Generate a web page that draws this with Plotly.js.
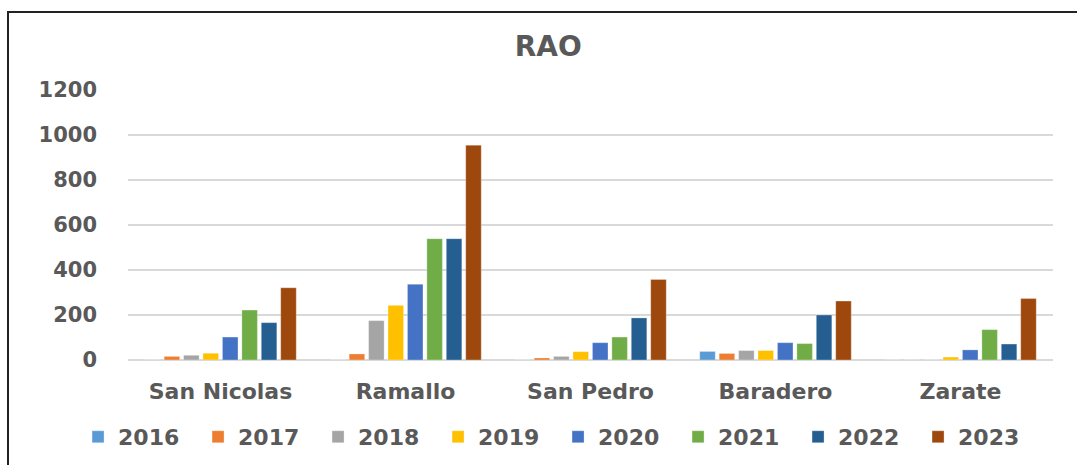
<!DOCTYPE html>
<html>
<head>
<meta charset="utf-8">
<script src="https://cdn.plot.ly/plotly-3.0.1.min.js"></script>
<style>
  html, body { margin: 0; padding: 0; background: #fff; }
  #wrap { position: relative; width: 1077px; height: 465px; overflow: hidden; }
  #frame { position: absolute; left: 7px; top: 11px; width: 1200px; height: 600px;
           border-left: 2px solid #222; border-top: 2px solid #222; pointer-events: none; }
  #chart { position: absolute; left: 0; top: 0; width: 1077px; height: 465px; }
</style>
</head>
<body>
<div id="wrap">
  <div id="chart"></div>
  <div id="frame"></div>
</div>
<script>
const categories = ["San Nicolas", "Ramallo", "San Pedro", "Baradero", "Zarate"];
const years = ["2016", "2017", "2018", "2019", "2020", "2021", "2022", "2023"];
const v2016 = [0, 0, 0, 38, 0];
const v2017 = [16, 27, 9, 29, 0];
const v2018 = [21, 175, 16, 42, 0];
const v2019 = [30, 243, 37, 42, 13];
const v2020 = [102, 337, 77, 77, 45];
const v2021 = [222, 539, 102, 73, 135];
const v2022 = [166, 539, 187, 200, 71];
const v2023 = [321, 955, 358, 262, 273];
const yTicks = [0, 200, 400, 600, 800, 1000, 1200];
const colors = ["#5B9BD5", "#ED7D31", "#A5A5A5", "#FFC000", "#4472C4", "#70AD47", "#255E91", "#9E480E"];

const series = [v2016, v2017, v2018, v2019, v2020, v2021, v2022, v2023];
const font = "DejaVu Sans, Verdana, sans-serif";
const traces = series.map((vals, i) => ({
  type: "bar",
  name: years[i],
  x: categories,
  y: vals,
  marker: { color: colors[i], line: { color: "rgba(255,255,255,0.6)", width: 0.5 } },
  hoverinfo: "x+y+name"
}));

const layout = {
  width: 1077,
  height: 465,
  paper_bgcolor: "rgba(0,0,0,0)",
  plot_bgcolor: "rgba(0,0,0,0)",
  margin: { l: 128, r: 24, t: 90, b: 105, autoexpand: false },
  title: {
    text: "<b>RAO</b>",
    font: { family: font, size: 28, color: "#595959" },
    x: 0.509, xanchor: "center", xref: "container",
    y: 0.9, yanchor: "middle", yref: "container"
  },
  barmode: "group",
  bargap: 0.16,
  bargroupgap: 0.2,
  xaxis: {
    type: "category",
    automargin: false,
    showgrid: false,
    showline: false,
    ticks: "",
    ticklabelstandoff: 16,
    tickfont: { family: font, size: 22, color: "#595959", weight: "bold" }
  },
  yaxis: {
    range: [0, 1200],
    automargin: false,
    tickvals: yTicks,
    ticktext: yTicks.map(String),
    showgrid: true,
    gridcolor: "#D9D9D9",
    gridwidth: 1.5,
    zeroline: true,
    zerolinecolor: "#D9D9D9",
    zerolinewidth: 1.5,
    showline: false,
    ticks: "",
    ticklabelstandoff: 30,
    tickfont: { family: font, size: 21, color: "#595959", weight: "bold" }
  },
  legend: {
    orientation: "h",
    x: -0.054, xanchor: "left",
    y: -0.285, yanchor: "middle",
    entrywidth: 75,
    font: { family: font, size: 22, color: "#595959", weight: "bold" },
    traceorder: "normal",
    itemclick: false
  },
  showlegend: true
};

Plotly.newPlot("chart", traces, layout, { displayModeBar: false, staticPlot: true });
</script>
</body>
</html>
